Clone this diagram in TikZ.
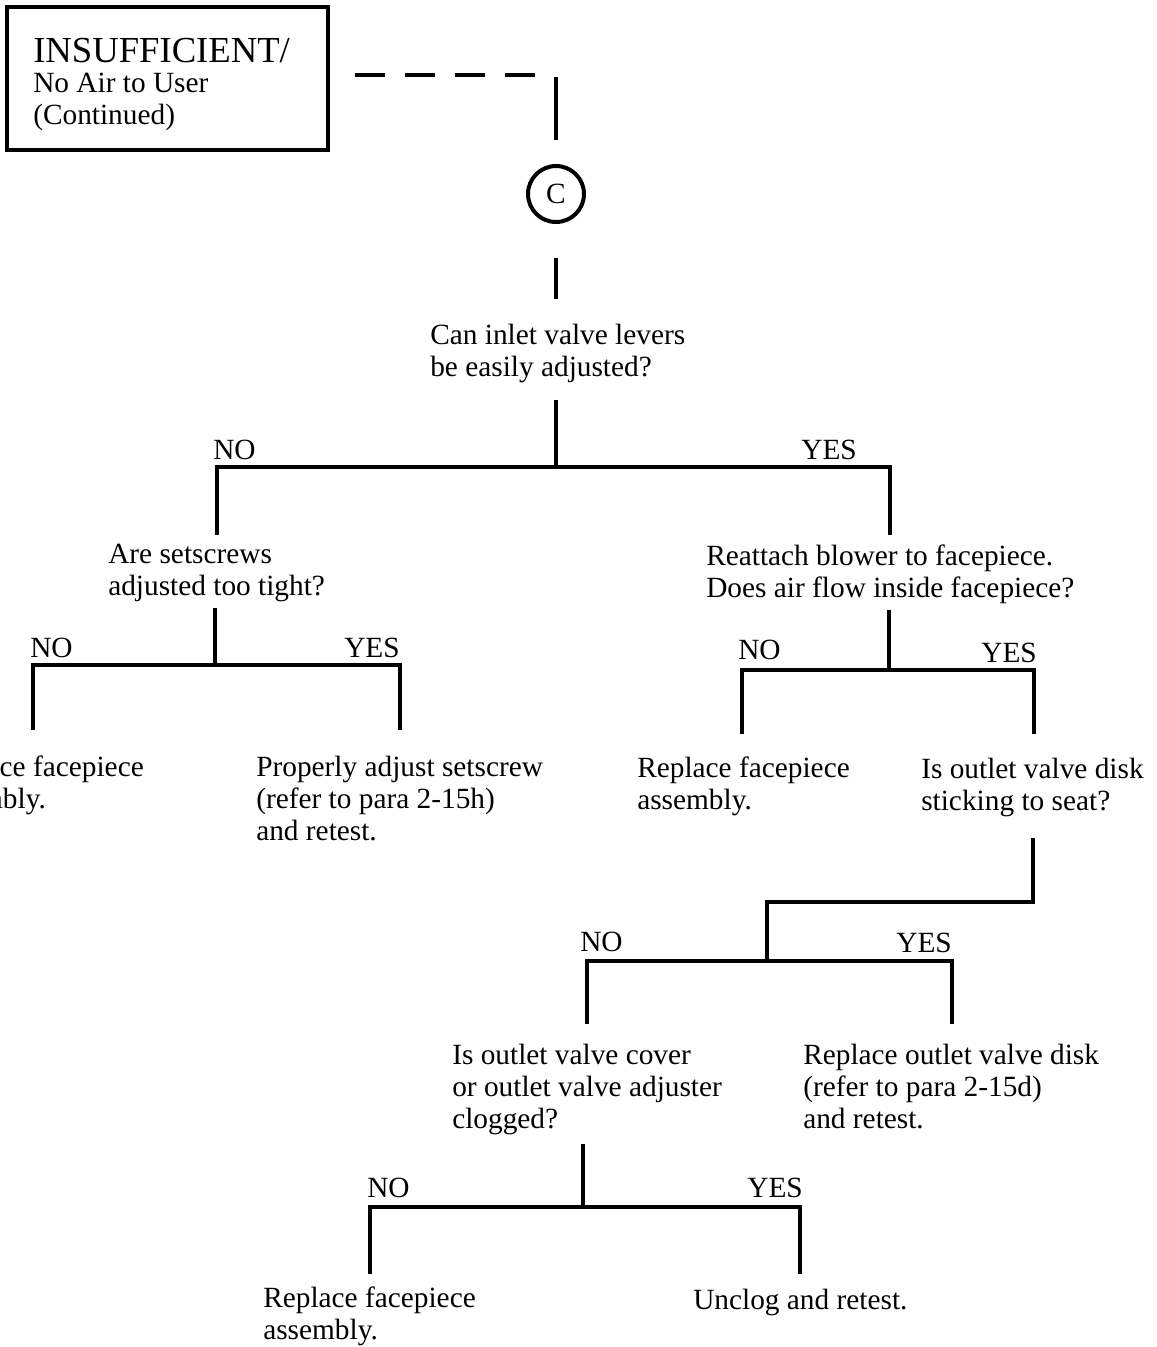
\documentclass[tikz,border=0pt]{standalone}
\usepackage{fontspec}
\setmainfont{Liberation Serif}
\begin{document}
\begin{tikzpicture}[x=0.75pt,y=-0.75pt,
  txt/.style={inner sep=0pt,anchor=base west,align=left,font=\fontsize{22}{24}\selectfont},
  lbl/.style={inner sep=0pt,anchor=base west,font=\fontsize{22}{24}\selectfont},
  lblr/.style={inner sep=0pt,anchor=base east,font=\fontsize{22}{24}\selectfont},
  conn/.style={line width=3.2pt,line cap=rect},
  dconn/.style={line width=3.2pt,dash pattern=on 22.5pt off 15pt}]
\useasboundingbox (0,0) rectangle (1157,1347);
\clip (0,0) rectangle (1157,1347);
% title box
\draw[line width=3.2pt] (7,7) rectangle (328,150);
\node[txt,font=\fontsize{27.5}{28}\selectfont] (title) at (33,62) {INSUFFICIENT/};
\node[txt] (title2) at (33,124) {No Air to User\\(Continued)};
\coordinate (d0) at (355,75);
\coordinate (d1) at (538,75);
\coordinate (v0) at (556,79);
\coordinate (v1) at (556,138);
\draw[dconn] (d0) -- (d1);
\draw[conn] (v0) -- (v1);
% connector C
\node[circle,draw,line width=3pt,minimum size=42pt,inner sep=0pt,font=\fontsize{22}{24}\selectfont] (C) at (556,194) {C};
\coordinate (c1) at (556,260);
\coordinate (c2) at (556,297);
\draw[conn] (c1) -- (c2);
% question 1
\node[txt] (q1) at (430,376) {Can inlet valve levers\\be easily adjusted?};
\coordinate (j1t) at (556,402);
\coordinate (j1) at (556,467);
\coordinate (j1l) at (217,467);
\coordinate (j1r) at (890,467);
\coordinate (j1lb) at (217,533);
\coordinate (j1rb) at (890,533);
\draw[conn] (j1t) -- (j1);
\draw[conn] (j1lb) -- (j1l) -- (j1r) -- (j1rb);
\node[lbl] (no1) at (213,459) {NO};
\node[lblr] (yes1) at (857,459) {YES};
% question 2 (left)
\node[txt] (q2) at (108,595) {Are setscrews\\adjusted too tight?};
\coordinate (j2t) at (215,610);
\coordinate (j2) at (215,665);
\coordinate (j2l) at (33,665);
\coordinate (j2r) at (400,665);
\coordinate (j2lb) at (33,728);
\coordinate (j2rb) at (400,728);
\draw[conn] (j2t) -- (j2);
\draw[conn] (j2lb) -- (j2l) -- (j2r) -- (j2rb);
\node[lbl] (no2) at (30,657) {NO};
\node[lblr] (yes2) at (400,657) {YES};
\node[txt] (a1) at (-69,808) {Replace facepiece\\assembly.};
\node[txt] (a2) at (256,840) {Properly adjust setscrew\\(refer to para 2-15h)\\and retest.};
% question 3 (right)
\node[txt] (q3) at (706,597) {Reattach blower to facepiece.\\Does air flow inside facepiece?};
\coordinate (j3t) at (889,612);
\coordinate (j3) at (889,670);
\coordinate (j3l) at (742,670);
\coordinate (j3r) at (1034,670);
\coordinate (j3lb) at (742,732);
\coordinate (j3rb) at (1034,732);
\draw[conn] (j3t) -- (j3);
\draw[conn] (j3lb) -- (j3l) -- (j3r) -- (j3rb);
\node[lbl] (no3) at (738,659) {NO};
\node[lblr] (yes3) at (1037,662) {YES};
\node[txt] (a3) at (637,809) {Replace facepiece\\assembly.};
\node[txt] (q4) at (921,810) {Is outlet valve disk\\sticking to seat?};
% step connector
\coordinate (k0) at (1033,840);
\coordinate (k1) at (1033,902);
\coordinate (k2) at (767,902);
\coordinate (k3) at (767,961);
\draw[conn] (k0) -- (k1) -- (k2) -- (k3);
\coordinate (j4l) at (587,961);
\coordinate (j4r) at (952,961);
\coordinate (j4lb) at (587,1022);
\coordinate (j4rb) at (952,1022);
\draw[conn] (j4lb) -- (j4l) -- (j4r) -- (j4rb);
\node[lbl] (no4) at (580,951) {NO};
\node[lblr] (yes4) at (952,952) {YES};
\node[txt] (q5) at (452,1128) {Is outlet valve cover\\or outlet valve adjuster\\clogged?};
\node[txt] (a4) at (803,1128) {Replace outlet valve disk\\(refer to para 2-15d)\\and retest.};
% question 5
\coordinate (j5t) at (583,1146);
\coordinate (j5) at (583,1207);
\coordinate (j5l) at (370,1207);
\coordinate (j5r) at (800,1207);
\coordinate (j5lb) at (370,1272);
\coordinate (j5rb) at (800,1272);
\draw[conn] (j5t) -- (j5);
\draw[conn] (j5lb) -- (j5l) -- (j5r) -- (j5rb);
\node[lbl] (no5) at (367,1197) {NO};
\node[lblr] (yes5) at (803,1197) {YES};
\node[txt] (a5) at (263,1339) {Replace facepiece\\assembly.};
\node[txt] (a6) at (693,1309) {Unclog and retest.};
\end{tikzpicture}
\end{document}
